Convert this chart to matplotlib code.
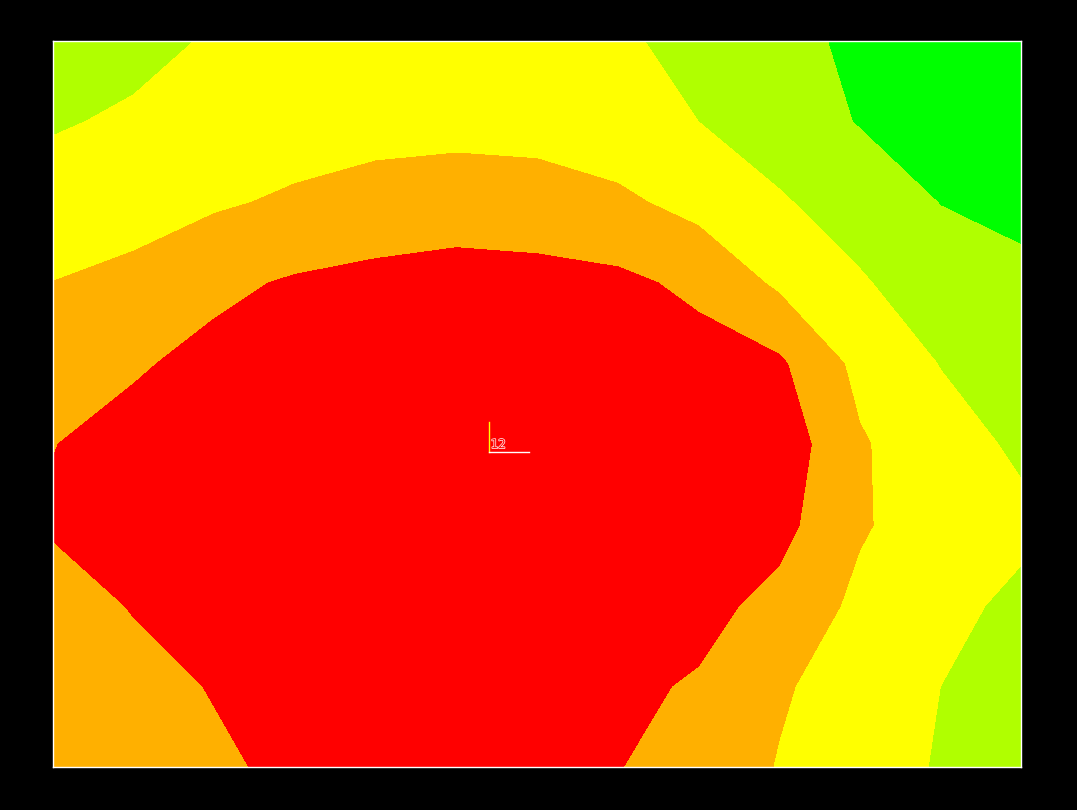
import numpy as np
import matplotlib
matplotlib.use('Agg')
import matplotlib.pyplot as plt
import matplotlib.patheffects as pe

# grid columns (left -> right) and rows (top -> bottom)
xs = np.arange(13)
ys = np.arange(10)[::-1]

row0 = [1.5, 1.7, 2.1, 2.3, 2.35, 2.4, 2.3, 2.1, 1.8, 1.3, 0.8, 0.6, 0.5]
row1 = [1.9, 2.15, 2.35, 2.5, 2.6, 2.65, 2.6, 2.35, 2.0, 1.5, 0.95, 0.7, 0.55]
row2 = [2.47, 2.63, 2.87, 3.15, 3.42, 3.55, 3.47, 3.2, 2.67, 2.1, 1.54, 0.98, 0.8]
row3 = [3.01, 3.24, 3.8, 4.1, 4.25, 4.35, 4.3, 4.2, 3.8, 2.83, 2.1, 1.46, 1.18]
row4 = [3.48, 3.9, 4.25, 4.45, 4.6, 4.65, 4.6, 4.5, 4.35, 4.15, 2.73, 1.97, 1.53]
row5 = [3.98, 4.3, 4.5, 4.65, 4.75, 4.8, 4.75, 4.65, 4.6, 4.6, 3.1, 2.38, 1.85]
row6 = [4.1, 4.35, 4.5, 4.65, 4.75, 4.8, 4.75, 4.65, 4.5, 4.3, 3.1, 2.5, 2.2]
row7 = [3.6, 4.05, 4.2, 4.4, 4.55, 4.6, 4.55, 4.4, 4.3, 3.7, 2.78, 2.25, 1.8]
row8 = [3.4, 3.7, 4.05, 4.3, 4.45, 4.5, 4.4, 4.2, 3.9, 3.1, 2.6, 2.0, 1.6]
row9 = [3.3, 3.55, 3.85, 4.2, 4.35, 4.4, 4.3, 4.03, 3.6, 2.95, 2.45, 1.92, 1.5]

z = np.array([row0, row1, row2, row3, row4, row5, row6, row7, row8, row9])

levels = [0, 1, 2, 3, 4, 5]
colors = ['#00ff00', '#b0ff00', '#ffff00', '#ffb000', '#ff0000']

label = '12'

fig = plt.figure(figsize=(10.77, 8.10), dpi=100, facecolor='black')
ax = fig.add_axes([0.0492, 0.0531, 0.8988, 0.8963])
ax.set_facecolor('black')

ax.contourf(xs, ys, z, levels=levels, colors=colors)

# small axis marker in the middle
ox, oy = 5.405, 3.905
ax.plot([ox, ox], [oy, oy + 0.37], color='#ffff00', lw=1)
ax.plot([ox, ox + 0.5], [oy, oy], color='white', lw=1)
ax.text(ox + 0.02, oy + 0.01, label, color='#ff0000', fontsize=9,
        family='DejaVu Sans Mono', va='bottom', ha='left',
        path_effects=[pe.Stroke(linewidth=1, foreground='white'), pe.Normal()])

ax.set_xlim(0, 12)
ax.set_ylim(0, 9)
ax.set_xticks([])
ax.set_yticks([])
for s in ax.spines.values():
    s.set_color('white')
    s.set_linewidth(1)

fig.savefig('out.png', dpi=100, facecolor='black')
